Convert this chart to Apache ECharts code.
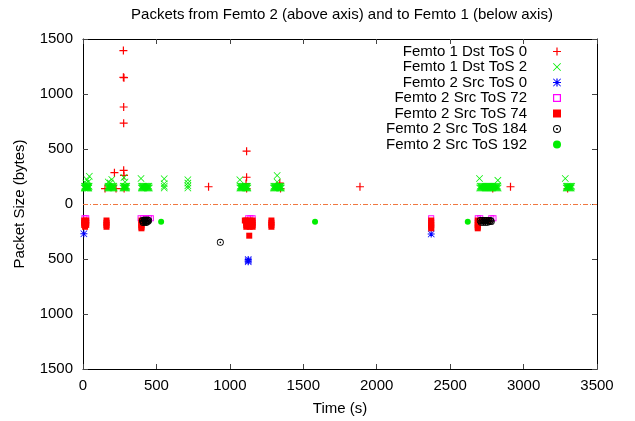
<!DOCTYPE html>
<html>
<head>
<meta charset="utf-8">
<script src="https://cdn.jsdelivr.net/npm/echarts@6/dist/echarts.min.js"></script>
<style>
  html, body { margin: 0; padding: 0; background: #fff; }
  #root { width: 635px; height: 421px; }
</style>
</head>
<body>
<div id="root"></div>
<script>
// [time (s), packet size (bytes)]
const dstTos0 = [
  [275,1395],[275,1152],[279,1148],[277,882],[277,735],[277,306],[279,260],[214,285],
  [1114,480],[1114,243],[1110,186],[855,157],[1886,157],[2911,157],
  [150,140],[225,140],[280,140],[1114,140],[1340,190],[1345,140],[2790,140],[3300,140]
]
const dstTos2 = [
  // ~0-45 s
  [8,145],[12,145],[16,145],[20,145],[24,145],[28,145],[32,145],[36,145],[40,145],
  [10,162],[14,162],[18,162],[22,162],[26,162],[30,162],[34,162],[38,162],[42,162],
  [43,252],[28,220],[20,190],[36,200],
  // ~165-215 s
  [168,145],[173,145],[178,145],[183,145],[188,145],[193,145],[198,145],[203,145],[208,145],[213,145],
  [170,162],[175,162],[180,162],[185,162],[190,162],[195,162],[200,162],[205,162],[210,162],
  [172,200],[196,222],[186,190],
  // ~270-300 s
  [272,145],[277,145],[282,145],[287,145],[292,145],[297,145],
  [274,162],[279,162],[284,162],[289,162],[294,162],[298,162],
  [279,240],[286,200],
  // ~395-455 s
  [397,145],[402,145],[407,145],[412,145],[417,145],[422,145],[427,145],[432,145],[437,145],[442,145],[447,145],[452,145],
  [399,162],[404,162],[409,162],[414,162],[419,162],[424,162],[429,162],[434,162],[439,162],[444,162],[449,162],
  [395,231],
  // ~550 s and ~715 s
  [553,145],[553,162],[553,185],[553,230],
  [714,145],[714,165],[714,190],[714,220],
  // ~1065-1125 s
  [1068,145],[1073,145],[1078,145],[1083,145],[1088,145],[1093,145],[1098,145],[1103,145],[1108,145],[1113,145],[1118,145],[1123,145],
  [1070,162],[1075,162],[1080,162],[1085,162],[1090,162],[1095,162],[1100,162],[1105,162],[1110,162],[1115,162],[1120,162],
  [1068,220],
  // ~1295-1355 s
  [1297,145],[1302,145],[1307,145],[1312,145],[1317,145],[1322,145],[1327,145],[1332,145],[1337,145],[1342,145],[1347,145],[1351,145],
  [1299,162],[1304,162],[1309,162],[1314,162],[1319,162],[1324,162],[1329,162],[1334,162],[1339,162],[1344,162],[1349,162],
  [1322,260],[1322,200],
  // ~2700-2830 s
  [2701,145],[2707,145],[2713,145],[2719,145],[2725,145],[2731,145],[2737,145],[2743,145],[2749,145],[2755,145],[2761,145],
  [2767,145],[2773,145],[2779,145],[2785,145],[2791,145],[2797,145],[2803,145],[2809,145],[2815,145],[2821,145],[2827,145],
  [2704,162],[2710,162],[2716,162],[2722,162],[2728,162],[2734,162],[2740,162],[2746,162],[2752,162],[2758,162],[2764,162],
  [2770,162],[2776,162],[2782,162],[2788,162],[2794,162],[2800,162],[2806,162],[2812,162],[2818,162],[2824,162],
  [2700,231],[2825,215],
  // ~3285-3330 s
  [3290,145],[3295,145],[3300,145],[3305,145],[3310,145],[3315,145],[3320,145],[3325,145],
  [3292,162],[3297,162],[3302,162],[3307,162],[3312,162],[3317,162],[3322,162],[3328,162],
  [3284,231]
]
// sizes of packets from Femto 2, drawn below the axis
const srcTos0 = [[6,270],[1125,505],[1125,515],[1125,525],[2371,273]]
const srcTos72 = [
  [10,130],[22,130],[392,130],[410,130],[430,130],[450,130],[462,130],
  [1125,130],[1140,130],[1155,130],[2371,130],[2688,130],[2705,130],[2780,130],[2795,130]
]
const srcTos74 = [
  [8,150],[8,170],[8,190],[22,150],[22,170],[22,190],[14,207],
  [160,150],[160,170],[160,190],[160,207],
  [398,150],[398,170],[398,190],[398,207],[398,221],
  [1102,150],[1112,150],[1112,170],[1112,190],[1112,207],[1135,150],[1135,170],[1135,190],[1135,207],
  [1155,150],[1155,170],[1155,190],[1155,207],[1132,288],
  [1283,150],[1283,170],[1283,190],[1283,207],
  [2371,150],[2371,170],[2371,190],[2371,207],[2371,221],
  [2688,150],[2688,170],[2688,190],[2688,207],[2688,221],[2730,150],[2760,150]
]
const srcTos184 = [
  [405,150],[412,160],[419,150],[426,160],[433,150],[440,160],[447,150],[410,168],[430,168],[440,145],[420,145],
  [935,348],
  [2705,150],[2712,165],[2719,150],[2726,165],[2733,150],[2740,165],[2747,150],[2754,165],[2761,150],[2768,160],[2775,150],[2780,160]
]
const srcTos192 = [[532,162],[1580,162],[2620,162]]

const xTicks = { min: 0, max: 3500, interval: 500 }
const yTicks = { min: -1500, max: 1500, interval: 500 }

const PLUS = 'path://M8.5,0H11.5V8.5H20V11.5H11.5V20H8.5V11.5H0V8.5H8.5Z'
const CROSS = 'path://M0,1.5L1.5,0L10,8.5L18.5,0L20,1.5L11.5,10L20,18.5L18.5,20L10,11.5L1.5,20L0,18.5L8.5,10Z'
const STAR = 'path://M8.5,0H11.5V8.5H20V11.5H11.5V20H8.5V11.5H0V8.5H8.5Z M0,1.5L1.5,0L10,8.5L18.5,0L20,1.5L11.5,10L20,18.5L18.5,20L10,11.5L1.5,20L0,18.5L8.5,10Z'
const OSQUARE = 'path://M0,0H20V20H0Z M3,3V17H17V3Z'
const SQUARE = 'path://M0,0H20V20H0Z'
const OCIRCLE = 'path://M10,0A10,10 0 1,1 10,20A10,10 0 1,1 10,0Z M10,2.5A7.5,7.5 0 1,0 10,17.5A7.5,7.5 0 1,0 10,2.5Z M10,7.5A2.5,2.5 0 1,1 10,12.5A2.5,2.5 0 1,1 10,7.5Z'

const font = 'Liberation Sans'
const below = arr => arr.map(p => [p[0], -p[1]])

function scatter (name, data, symbol, size, color) {
  return {
    name: name,
    type: 'scatter',
    data: data,
    symbol: symbol,
    symbolSize: size,
    symbolKeepAspect: true,
    itemStyle: { color: color, opacity: 1 },
    emphasis: { disabled: true },
    animation: false
  }
}

function axisBase (pos, ticks) {
  return {
    type: 'value', position: pos, min: ticks.min, max: ticks.max, interval: ticks.interval,
    axisLine: { show: true, onZero: false, lineStyle: { color: '#000', width: 1 } },
    axisTick: { show: true, inside: true, length: 5, lineStyle: { color: '#444' } },
    axisLabel: { show: false },
    splitLine: { show: false }
  }
}

const chart = echarts.init(document.getElementById('root'), null, { renderer: 'canvas' })

const series = [
  scatter('Femto 1 Dst ToS 0', dstTos0, PLUS, 8, '#ff0000'),
  scatter('Femto 1 Dst ToS 2', dstTos2, CROSS, 7, '#00ee00'),
  scatter('Femto 2 Src ToS 0', below(srcTos0), STAR, 7, '#0000ff'),
  scatter('Femto 2 Src ToS 72', below(srcTos72), OSQUARE, 6, '#ff00ff'),
  scatter('Femto 2 Src ToS 74', below(srcTos74), SQUARE, 6, '#ff0000'),
  scatter('Femto 2 Src ToS 184', below(srcTos184), OCIRCLE, 7, '#000000'),
  scatter('Femto 2 Src ToS 192', below(srcTos192), 'circle', 6, '#00ee00')
]
series[0].markLine = {
  silent: true,
  symbol: ['none', 'none'],
  label: { show: false },
  lineStyle: { color: '#f07840', width: 1, type: [5, 2, 1, 2] },
  data: [{ yAxis: 0 }]
}

const xMain = axisBase('bottom', xTicks)
xMain.name = 'Time (s)'
xMain.nameLocation = 'middle'
xMain.nameGap = 32
xMain.nameTextStyle = { fontFamily: font, fontSize: 15, color: '#000' }
xMain.axisLabel = { show: true, fontFamily: font, fontSize: 15, color: '#000', margin: 9, formatter: v => String(v) }

const yMain = axisBase('left', yTicks)
yMain.name = 'Packet Size (bytes)'
yMain.nameLocation = 'middle'
yMain.nameGap = 56
yMain.nameTextStyle = { fontFamily: font, fontSize: 15, color: '#000' }
yMain.axisLabel = { show: true, fontFamily: font, fontSize: 15, color: '#000', margin: 10, formatter: v => String(Math.abs(v)) }

chart.setOption({
  animation: false,
  backgroundColor: '#fff',
  textStyle: { fontFamily: font },
  title: {
    text: 'Packets from Femto 2 (above axis) and to Femto 1 (below axis)',
    left: 342, top: 7, padding: 0, textAlign: 'center',
    textStyle: { fontFamily: font, fontSize: 15, fontWeight: 'normal', color: '#000' }
  },
  legend: {
    orient: 'vertical', align: 'right', right: 74, top: 44, padding: 0,
    itemWidth: 50, itemHeight: 8, itemGap: 0.5,
    textStyle: { fontFamily: font, fontSize: 15, color: '#000', lineHeight: 15 },
    data: series.map(s => s.name)
  },
  grid: { left: 83, right: 38, top: 39, bottom: 48, show: false },
  xAxis: [xMain, axisBase('top', xTicks)],
  yAxis: [yMain, axisBase('right', yTicks)],
  series: series
})
</script>
</body>
</html>
